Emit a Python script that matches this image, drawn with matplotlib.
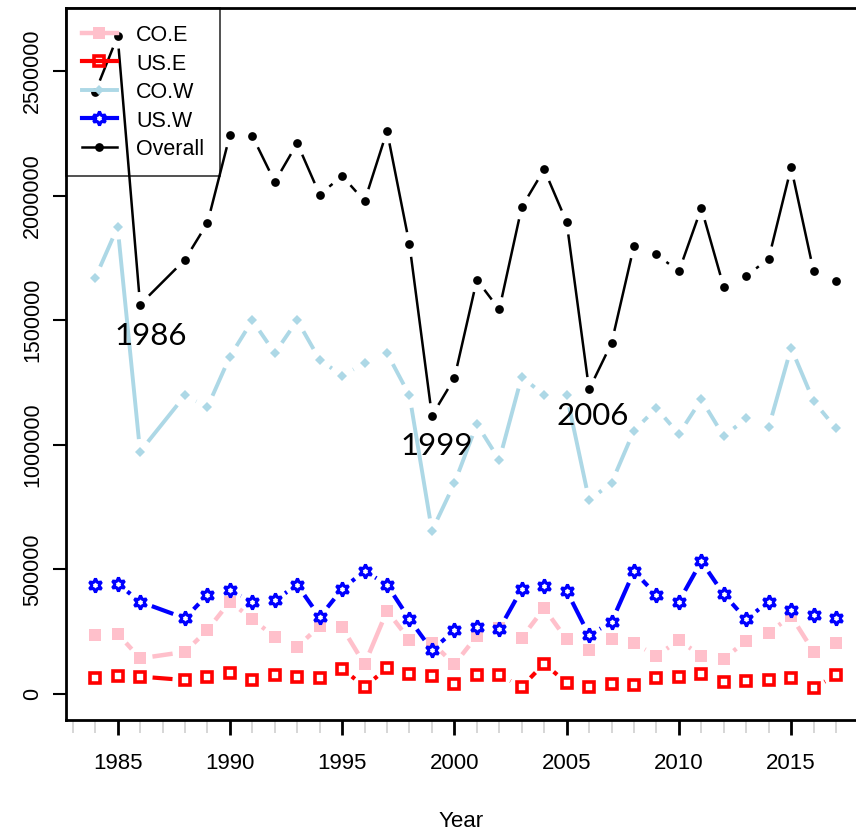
import numpy as np
import matplotlib
matplotlib.use("Agg")
import matplotlib.pyplot as plt
from matplotlib.lines import Line2D

plt.rcParams["font.family"] = ["Liberation Sans", "DejaVu Sans"]

years = [1984, 1985, 1986, 1988, 1989, 1990, 1991, 1992, 1993, 1994, 1995,
         1996, 1997, 1998, 1999, 2000, 2001, 2002, 2003, 2004, 2005, 2006,
         2007, 2008, 2009, 2010, 2011, 2012, 2013, 2014, 2015, 2016, 2017]
co_e = [236000, 242000, 143000, 169000, 257000, 371000, 300000, 229000, 189000,
        273000, 267000, 119000, 334000, 217000, 206000, 119000, 233000, 265000,
        226000, 344000, 219000, 177000, 219000, 204000, 153000, 216000, 153000,
        142000, 213000, 246000, 313000, 170000, 204000]
us_e = [63000, 72000, 70000, 56000, 70000, 86000, 56000, 75000, 70000, 63000,
        102000, 29000, 103000, 79000, 72000, 39000, 76000, 76000, 29000, 122000,
        45000, 29000, 41000, 35000, 63000, 68000, 82000, 49000, 52000, 56000,
        66000, 25000, 75000]
co_w = [1669000, 1874000, 973000, 1198000, 1151000, 1354000, 1499000, 1368000,
        1499000, 1341000, 1278000, 1327000, 1368000, 1198000, 655000, 845000,
        1083000, 939000, 1274000, 1198000, 1200000, 778000, 847000, 1057000,
        1147000, 1043000, 1182000, 1034000, 1106000, 1070000, 1389000, 1175000,
        1066000]
us_w = [438000, 443000, 370000, 304000, 398000, 417000, 371000, 376000, 438000,
        309000, 421000, 494000, 438000, 300000, 176000, 255000, 267000, 260000,
        421000, 434000, 414000, 236000, 289000, 492000, 398000, 371000, 532000,
        400000, 300000, 371000, 336000, 316000, 304000]
overall = [2415000, 2640000, 1563000, 1743000, 1890000, 2243000, 2239000,
           2055000, 2210000, 2004000, 2079000, 1978000, 2259000, 1804000,
           1117000, 1267000, 1662000, 1543000, 1954000, 2105000, 1894000,
           1222000, 1408000, 1798000, 1764000, 1696000, 1950000, 1633000,
           1677000, 1747000, 2113000, 1697000, 1656000]

labels = ["CO.E", "US.E", "CO.W", "US.W", "Overall"]
notes = [("1986", 1984.88, 1400000), ("1999", 1997.58, 959000), ("2006", 2004.57, 1079000)]

# style per series: color, lw, marker kwargs
styles = [
    ("pink", 3.2, dict(marker="s", ms=8, mfc="pink", mec="pink", mew=0)),
    ("red", 3.0, dict(marker="s", ms=7.5, mfc="none", mec="red", mew=2.6)),
    ("lightblue", 2.8, dict(marker="D", ms=5.5, mfc="lightblue", mec="lightblue", mew=0)),
    ("blue", 3.0, dict(marker=(6, 1, 0), ms=10, mfc="white", mec="blue", mew=2.2)),
    ("black", 1.8, dict(marker="o", ms=6.3, mfc="black", mec="black", mew=0)),
]
series = [co_e, us_e, co_w, us_w, overall]

W, H = 856, 831
fig = plt.figure(figsize=(W / 100, H / 100), dpi=100)
ax = fig.add_axes([66 / W, (H - 720) / H, (W - 66) / W, 712 / H])
ax.set_xlim(1982.70, 2017.89)
ax.set_ylim(-104300, 2752800)

GAP = 12.5  # px, like R's type="b"


def gapped(x, y, gap=GAP):
    pts = ax.transData.transform(np.column_stack([x, y]))
    out = []
    for p0, p1 in zip(pts[:-1], pts[1:]):
        d = p1 - p0
        L = np.hypot(*d)
        if L <= 2 * gap:
            continue
        u = d / L
        out += [p0 + u * gap, p1 - u * gap, [np.nan, np.nan]]
    if not out:
        return [], []
    xy = ax.transData.inverted().transform(np.array(out))
    return xy[:, 0], xy[:, 1]


handles = []
for i, (vals, (col, lw, mk)) in enumerate(zip(series, styles)):
    gx, gy = gapped(years, vals)
    ax.plot(gx, gy, color=col, lw=lw, solid_capstyle="butt", zorder=2 + i)
    ax.plot(years, vals, ls="none", zorder=2 + i, **mk)
    handles.append(Line2D([], [], color=col, lw=lw, **mk))

for txt, x, y in notes:
    ax.text(x, y, txt, fontsize=22.5, family="Lato", ha="left", va="baseline", zorder=10)

leg = ax.legend(handles, labels, loc="upper left", bbox_to_anchor=(0, 1),
                borderaxespad=0, fontsize=15.5, fancybox=False, edgecolor="black",
                facecolor="none", handlelength=1.6, handleheight=1.0,
                labelspacing=0.3, handletextpad=0.9, borderpad=0.75)
leg.get_frame().set_linewidth(1.2)
leg.set_zorder(20)

# axes and ticks
ax.spines["right"].set_visible(False)
for s in ["left", "bottom", "top"]:
    ax.spines[s].set_linewidth(2)

yt = [0, 500000, 1000000, 1500000, 2000000, 2500000]
ax.set_yticks(yt)
ax.set_yticklabels([str(v) for v in yt], rotation=90, va="center", fontsize=15.5)
ax.tick_params(axis="y", length=9.5, width=1.5, pad=7)

ax.set_xticks(range(1985, 2016, 5))
ax.set_xticks(range(1983, 2018), minor=True)
ax.tick_params(axis="x", which="major", length=10.5, width=2, labelsize=16, pad=13)
ax.tick_params(axis="x", which="minor", length=9, width=1.2, color="#d0d0d0")
ax.set_xlabel("Year", fontsize=16, labelpad=27)

fig.savefig("out.png", dpi=100)
